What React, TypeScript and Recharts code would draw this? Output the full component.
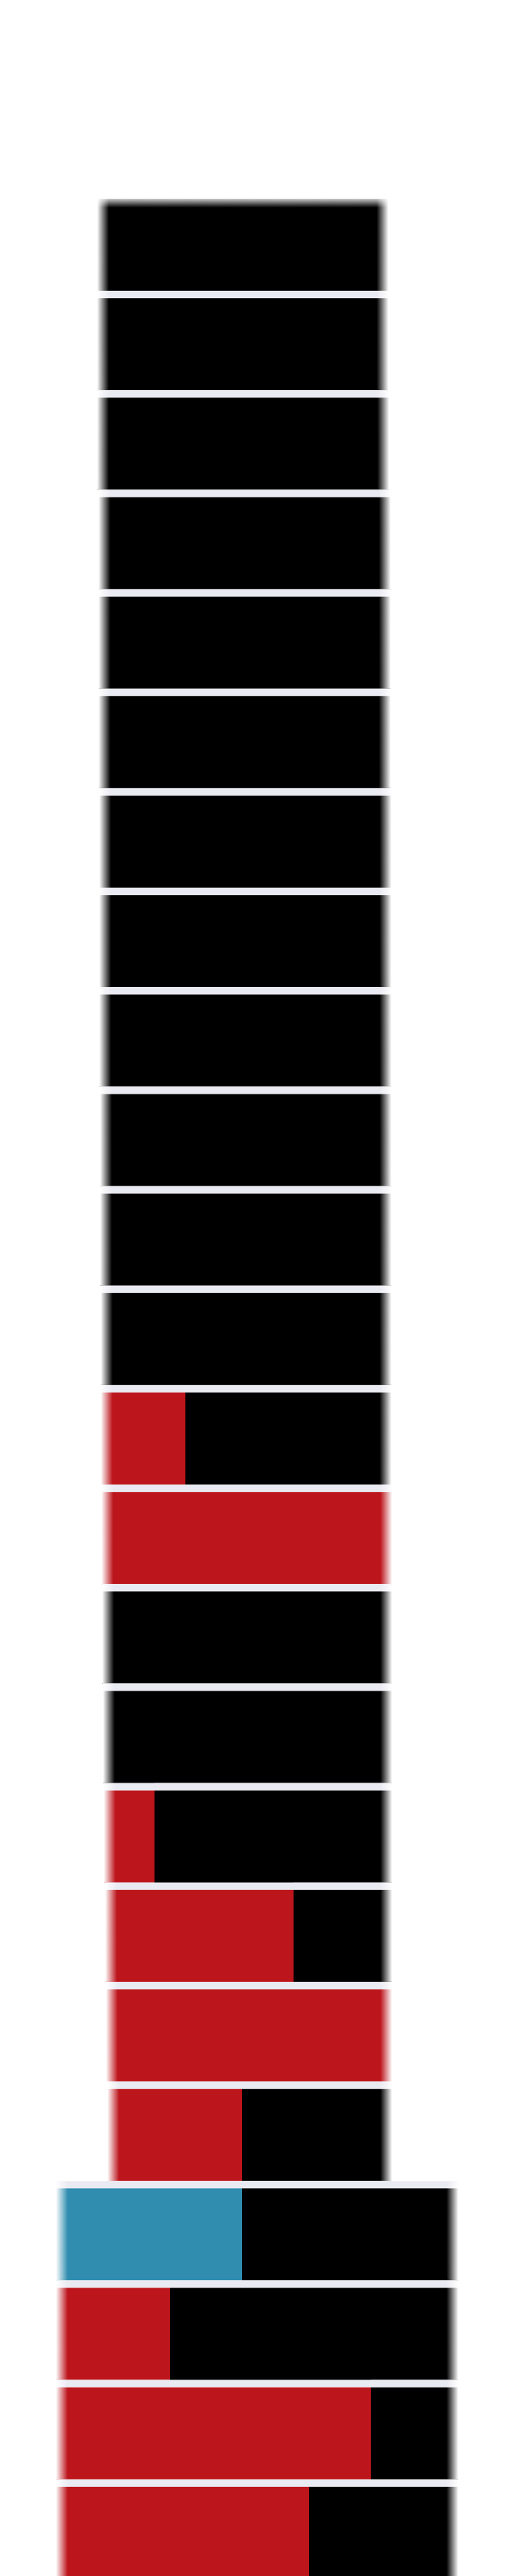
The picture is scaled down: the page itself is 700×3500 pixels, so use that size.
import React from 'react';
import { BarChart, Bar, XAxis, YAxis, Cell } from 'recharts';

// One category per horizontal row (top to bottom); no visible labels.
const rowIds = ['1','2','3','4','5','6','7','8','9','10','11','12','13','14','15','16','17','18','19','20','21','22','23','24'];
// Leading blank span before each row starts (x units, 0..700 scale)
const offsetVals = [140,140,140,142,142,142,143,143,143,144,144,145,145,146,147,148,149,151,152,154,84,84,84,84];
// Coloured (red / blue) segment length
const accentVals = [0,0,0,0,0,0,0,0,0,0,0,0,107,379,0,0,61,248,373,175,245,147,420,336];
// Black remainder length
const restVals = [380,380,381,381,381,381,381,381,381,380,380,379,272,0,378,377,315,126,0,196,286,384,111,195];
// Colour group of the coloured segment
const accentGroup = ['red','red','red','red','red','red','red','red','red','red','red','red','red','red','red','red','red','red','red','red','blue','red','red','red'];

const COLORS: Record<string, string> = { red: '#BC151C', blue: '#318DAF' };
const BLACK = '#000000';
const LAVENDER = '#EAEAF2';
const GAP = 10;
const FADE = 8;
const TOP_FADE = 12;

const data = rowIds.map((id, i) => ({
  row: id,
  offset: offsetVals[i],
  accent: accentVals[i],
  rest: restVals[i],
  group: accentGroup[i],
}));

function makeShape(kind: 'accent' | 'rest') {
  return function Seg(props: any) {
    const { x, y, width, height, fill, index, payload } = props;
    if (!width || width <= 0 || !payload) return <g />;
    const isFirst = kind === 'accent' ? true : payload.accent === 0;
    const isLast = kind === 'rest' ? true : payload.rest === 0;
    const x0 = isFirst ? x - FADE : x;
    const x1 = isLast ? x + width + FADE : x + width;
    return (
      <g>
        {index > 0 && <rect x={x0} y={y} width={x1 - x0} height={GAP} fill={LAVENDER} />}
        <rect x={x0} y={y + GAP} width={x1 - x0} height={height - GAP} fill={fill} />
        {index === 0 && (
          <rect x={x0} y={y + GAP} width={x1 - x0} height={TOP_FADE} fill="url(#fadeT)" />
        )}
        {isFirst && <rect x={x - FADE} y={y} width={FADE * 2} height={height} fill="url(#fadeL)" />}
        {isLast && <rect x={x + width - FADE} y={y} width={FADE * 2} height={height} fill="url(#fadeR)" />}
      </g>
    );
  };
}

const AccentShape = makeShape('accent');
const RestShape = makeShape('rest');
const Empty = () => <g />;

export default function App() {
  return (
    <div style={{ position: 'absolute', left: 0, top: 0, width: 700, height: 3504, background: '#ffffff' }}>
      <BarChart
        width={700}
        height={3504}
        data={data}
        layout="vertical"
        barCategoryGap={0}
        margin={{ top: 260, right: 0, bottom: 0, left: 0 }}
      >
        <defs>
          <linearGradient id="fadeL" x1="0" y1="0" x2="1" y2="0">
            <stop offset="0%" stopColor="#ffffff" stopOpacity={1} />
            <stop offset="100%" stopColor="#ffffff" stopOpacity={0} />
          </linearGradient>
          <linearGradient id="fadeR" x1="0" y1="0" x2="1" y2="0">
            <stop offset="0%" stopColor="#ffffff" stopOpacity={0} />
            <stop offset="100%" stopColor="#ffffff" stopOpacity={1} />
          </linearGradient>
          <linearGradient id="fadeT" x1="0" y1="0" x2="0" y2="1">
            <stop offset="0%" stopColor="#ffffff" stopOpacity={0.8} />
            <stop offset="100%" stopColor="#ffffff" stopOpacity={0} />
          </linearGradient>
        </defs>
        <XAxis type="number" domain={[0, 700]} hide allowDataOverflow />
        <YAxis type="category" dataKey="row" hide />
        <Bar dataKey="offset" stackId="s" fill="transparent" shape={<Empty />} isAnimationActive={false} />
        <Bar dataKey="accent" stackId="s" shape={<AccentShape />} isAnimationActive={false}>
          {data.map((d, i) => (
            <Cell key={i} fill={COLORS[d.group]} />
          ))}
        </Bar>
        <Bar dataKey="rest" stackId="s" fill={BLACK} shape={<RestShape />} isAnimationActive={false} />
      </BarChart>
    </div>
  );
}
